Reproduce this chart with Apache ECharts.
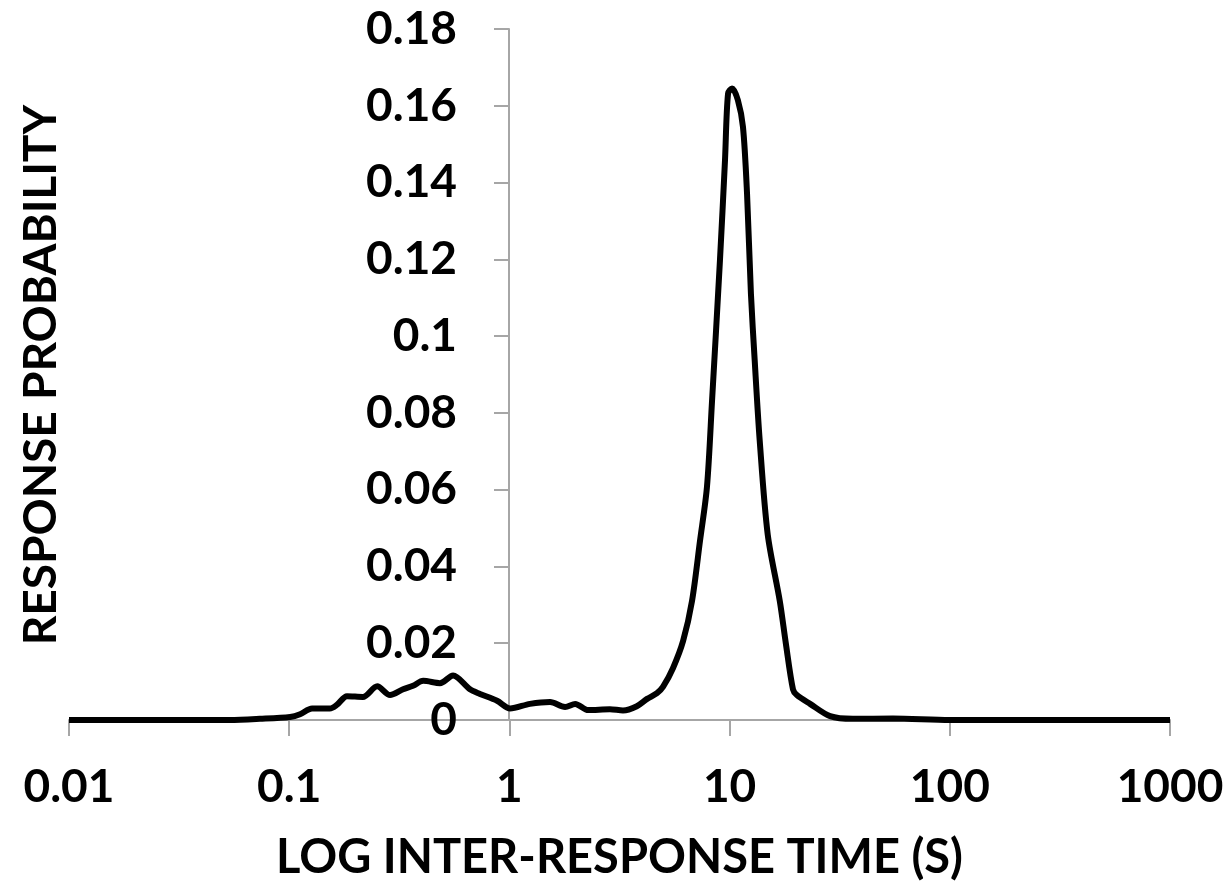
<!DOCTYPE html>
<html>
<head>
<meta charset="UTF-8">
<title>Response probability</title>
<script src="https://cdn.jsdelivr.net/npm/echarts@6/dist/echarts.min.js"></script>
<style>
  html, body { margin: 0; padding: 0; background: #fff; }
  #chart { width: 1232px; height: 886px; }
</style>
</head>
<body>
<div id="chart"></div>
<script>
// inter-response time (s)
var times = [0.01, 0.0233, 0.0538, 0.0736, 0.101, 0.112, 0.127, 0.153, 0.165, 0.183,
  0.216, 0.251, 0.287, 0.329, 0.365, 0.406, 0.484, 0.555, 0.662, 0.735,
  0.879, 1.007, 1.24, 1.53, 1.79, 1.99, 2.28, 2.86, 3.28, 3.79,
  4.22, 4.68, 4.99, 5.53, 6.15, 6.75, 7.34, 7.89, 8.32, 9.04,
  9.53, 9.84, 10.26, 10.9, 11.5, 12.0, 12.5, 13.0, 13.7, 14.9,
  16.9, 18.0, 19.4, 20.2, 23.2, 28.6, 36.3, 55.2, 100, 1000];
var probs = [0, 0, 0, 0.0003, 0.0008, 0.0015, 0.003, 0.003, 0.004, 0.0062,
  0.006, 0.0088, 0.0065, 0.008, 0.0089, 0.0102, 0.0096, 0.0116, 0.008, 0.0068,
  0.005, 0.003, 0.0042, 0.0047, 0.0034, 0.0042, 0.0026, 0.0028, 0.0025, 0.0036,
  0.0055, 0.007, 0.0087, 0.0135, 0.0206, 0.031, 0.0467, 0.0606, 0.083, 0.1197,
  0.1458, 0.1632, 0.1645, 0.1615, 0.1545, 0.1371, 0.111, 0.0937, 0.0728, 0.0483,
  0.031, 0.02, 0.008, 0.0065, 0.0042, 0.001, 0.0003, 0.0004, 0, 0];
var xTicks = ['0.01', '0.1', '1', '10', '100', '1000'];

var font = 'Lato, "Open Sans", sans-serif';
var axisGray = '#a6a6a6';

var pts = [];
for (var i = 0; i < times.length; i++) pts.push([times[i], probs[i]]);

var chart = echarts.init(document.getElementById('chart'));
chart.setOption({
  animation: false,
  grid: { left: 69, right: 62, top: 29, bottom: 166 },
  xAxis: {
    type: 'log',
    logBase: 10,
    min: 0.01,
    max: 1000,
    name: 'LOG INTER-RESPONSE TIME (S)',
    nameLocation: 'middle',
    nameGap: 114,
    nameTextStyle: { fontFamily: font, fontWeight: 'bold', fontSize: 47, color: '#000' },
    axisLine: { lineStyle: { color: axisGray, width: 2 } },
    axisTick: { inside: false, length: 16, lineStyle: { color: axisGray, width: 2 } },
    minorTick: { show: false },
    splitLine: { show: false },
    axisLabel: {
      margin: 44,
      fontFamily: font, fontWeight: 'bold', fontSize: 46, color: '#000',
      formatter: function (v) {
        var k = Math.round(Math.log(v) / Math.LN10) + 2;
        return xTicks[k] !== undefined ? xTicks[k] : '';
      }
    }
  },
  yAxis: {
    type: 'value',
    min: 0,
    max: 0.18,
    interval: 0.02,
    position: 'left',
    offset: -440,
    axisLine: { show: true, lineStyle: { color: axisGray, width: 2 } },
    axisTick: { show: true, length: 15, lineStyle: { color: axisGray, width: 2 } },
    splitLine: { show: false },
    axisLabel: {
      margin: 52,
      fontFamily: font, fontWeight: 'bold', fontSize: 46, color: '#000',
      formatter: function (v) { return String(Math.round(v * 100) / 100); }
    }
  },
  graphic: [{
    type: 'text',
    x: 41,
    y: 375,
    rotation: Math.PI / 2,
    style: {
      text: 'RESPONSE PROBABILITY',
      textAlign: 'center',
      textVerticalAlign: 'middle',
      fontFamily: font, fontWeight: 'bold', fontSize: 46, fill: '#000'
    }
  }],
  series: [{
    type: 'line',
    data: pts,
    smooth: 0.3,
    showSymbol: false,
    lineStyle: { color: '#000', width: 6 }
  }]
});
</script>
</body>
</html>
